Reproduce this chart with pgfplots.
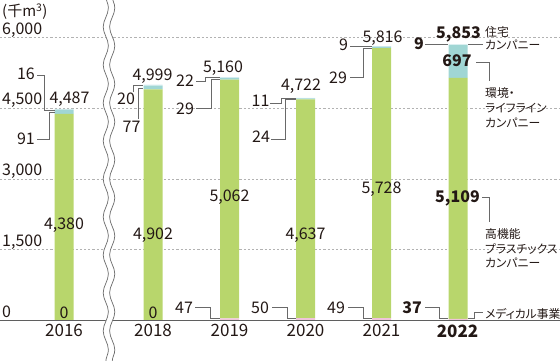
\documentclass[border=0pt]{standalone}
\usepackage{fontspec}
\setmainfont{Noto Sans CJK JP}
\newfontfamily\jpf[RawFeature=+palt]{Noto Sans CJK JP}
\usepackage{pgfplots}
\pgfplotsset{compat=1.18}
\usetikzlibrary{decorations.pathmorphing}
\definecolor{cMed}{RGB}{240,196,218}
\definecolor{cPla}{RGB}{184,214,108}
\definecolor{cEnv}{RGB}{160,214,212}
\definecolor{cHou}{RGB}{212,236,240}
\definecolor{txt}{RGB}{35,24,21}
\definecolor{lead}{RGB}{105,105,105}
\definecolor{gridc}{RGB}{178,178,178}
\definecolor{axc}{RGB}{95,95,95}
\begin{document}
\begin{tikzpicture}[
  num/.style={inner sep=0pt, text height=11.7pt, text depth=0pt, font=\fontsize{16}{18}\selectfont, text=txt},
  bnum/.style={num, font=\fontsize{16}{18}\selectfont\bfseries},
  yr/.style={inner sep=0pt, text height=12.4pt, text depth=0pt, font=\fontsize{17}{19}\selectfont, text=txt},
  ylab/.style={inner sep=0pt, anchor=base west, font=\fontsize{16}{18}\selectfont, text=txt},
  jp/.style={inner sep=0pt, anchor=west, text height=10.4pt, text depth=1.4pt, font=\jpf\fontsize{11.8}{13}\selectfont, text=txt},
  ld/.style={draw=lead, line width=0.9pt},
  brk/.style={decorate, decoration={snake, segment length=38pt, amplitude=2.6pt}}
]
\path[use as bounding box] (0,0) rectangle (560pt,360pt);
% gridlines (background)
\begin{scope}[x=1pt,y=-1pt,shift={(0pt,360pt)}]
  \foreach \gy in {37.5,108.25,179,249.75}{
    \draw[gridc, line width=0.7pt, dash pattern=on 2.2pt off 2pt] (0,\gy) -- (560,\gy);
  }
\end{scope}
\begin{axis}[
  scale only axis, width=560pt, height=360pt,
  xmin=0, xmax=560, ymin=-837.5, ymax=6795,
  hide axis, clip=false,
  ybar stacked, bar width=19pt,
]
% medical
\addplot[fill=cMed, draw=none] coordinates {(64,0) (153,0) (229.5,47) (305.5,50) (381.5,49) (458,37)};
% high-performance plastics
\addplot[fill=cPla, draw=none] coordinates {(64,4380) (153,4902) (229.5,5062) (305.5,4637) (381.5,5728) (458,5109)};
% environment & lifeline
\addplot[fill=cEnv, draw=none] coordinates {(64,91) (153,77) (229.5,29) (305.5,24) (381.5,29) (458,697)};
% housing
\addplot[fill=cHou, draw=none] coordinates {(64,16) (153,20) (229.5,22) (305.5,11) (381.5,9) (458,9)};
\end{axis}
\begin{scope}[x=1pt,y=-1pt,shift={(0pt,360pt)}]
  % base line
  \draw[axc, line width=1.3pt] (0,320.5) -- (560,320.5);
  % break
  \draw[white, line width=6.5pt, brk] (109,-4) -- (109,364);
  \draw[lead, line width=0.7pt, brk] (105.8,-4) -- (105.8,364);
  \draw[lead, line width=0.7pt, brk] (112.2,-4) -- (112.2,364);
  % unit and y labels
  \node[inner sep=0pt, anchor=west, font=\fontsize{15}{17}\selectfont, text=txt] at (2,12) {(千m\textsuperscript{3})};
  \node[ylab] at (2,34) {6,000};
  \node[ylab] at (2,104.75) {4,500};
  \node[ylab] at (2,175.5) {3,000};
  \node[ylab] at (2,246.25) {1,500};
  \node[ylab] at (2,317) {0};
  % years
  \node[yr] at (64,330) {2016};
  \node[yr] at (153,330) {2018};
  \node[yr] at (229.5,330) {2019};
  \node[yr] at (305.5,330) {2020};
  \node[yr] at (381.5,330) {2021};
  \node[yr, font=\fontsize{17}{19}\selectfont\bfseries] at (457.5,331) {2022};
  % totals
  \node[num] at (69.5,97.5) {4,487};
  \node[num] at (152.5,75) {4,999};
  \node[num] at (223,66.5) {5,160};
  \node[num] at (301,84.5) {4,722};
  \node[num] at (382.5,36.5) {5,816};
  \node[bnum] at (458.5,33) {5,853};
  % plastics values
  \node[num] at (64,224) {4,380};
  \node[num] at (153,234) {4,902};
  \node[num] at (229.5,196) {5,062};
  \node[num] at (305.5,234) {4,637};
  \node[num] at (381.5,188) {5,728};
  \node[bnum] at (457.5,197) {5,109};
  % environment 2022
  \node[bnum] at (457,61) {697};
  % medical values
  \node[num] at (64,312.5) {0};
  \node[num] at (153,312.5) {0};
  \node[num] at (184,307.5) {47};
  \node[num] at (260,308) {50};
  \node[num] at (336,308) {49};
  \node[bnum] at (412,307.5) {37};
  % 2016 leaders
  \node[num] at (26,74) {16};
  \draw[ld] (37,75) -- (44,75) -- (44,110) -- (55,110);
  \node[num] at (26,139) {91};
  \draw[ld] (37,139) -- (49,139) -- (49,112) -- (55,112);
  % 2018 leaders
  \node[num] at (126,99) {20};
  \draw[ld] (133,92) -- (133,85) -- (143,85);
  \node[num] at (131.5,127) {77};
  \draw[ld] (138,119) -- (138,88) -- (143,88);
  % 2019 leaders
  \node[num] at (185,81) {22};
  \draw[ld] (196,81) -- (205,81) -- (205,77.5) -- (220,77.5);
  \node[num] at (185,109) {29};
  \draw[ld] (196,108.5) -- (211,108.5) -- (211,79) -- (220,79);
  \draw[ld] (195,307) -- (210,307) -- (210,318.5) -- (220,318.5);
  % 2020 leaders
  \node[num] at (260.5,101) {11};
  \draw[ld] (270,103) -- (281,103) -- (281,98) -- (296,98);
  \node[num] at (261,137) {24};
  \draw[ld] (271,139) -- (285,139) -- (285,99.5) -- (296,99.5);
  \draw[ld] (272,307) -- (287,307) -- (287,318.5) -- (296,318.5);
  % 2021 leaders
  \node[num] at (343.5,45) {9};
  \draw[ld] (350,46.5) -- (372,46.5);
  \node[num] at (338,78) {29};
  \draw[ld] (350,77) -- (363,77) -- (363,48) -- (372,48);
  \draw[ld] (348,307) -- (363,307) -- (363,318.5) -- (372,318.5);
  % 2022 leaders
  \node[bnum] at (419,43.5) {9};
  \draw[ld] (425,44.3) -- (448,44.3);
  \draw[ld] (425,307) -- (439,307) -- (439,318.5) -- (448,318.5);
  \draw[ld] (468,44.3) -- (483,44.3);
  \draw[ld] (476,62) -- (489,62) -- (489,81);
  \draw[ld] (482,197) -- (489,197) -- (489,222);
  \draw[ld] (468,318.5) -- (474,318.5) -- (474,312) -- (483,312);
  % right-hand legend labels
  \node[jp] at (485,32) {住宅};
  \node[jp] at (485,45) {カンパニー};
  \node[jp] at (485,93) {環境・};
  \node[jp] at (485,108) {ライフライン};
  \node[jp] at (485,123) {カンパニー};
  \node[jp] at (485,234) {高機能};
  \node[jp] at (485,248.5) {プラスチックス};
  \node[jp] at (485,263) {カンパニー};
  \node[jp] at (485,313.5) {メディカル事業};
\end{scope}
\end{tikzpicture}
\end{document}
